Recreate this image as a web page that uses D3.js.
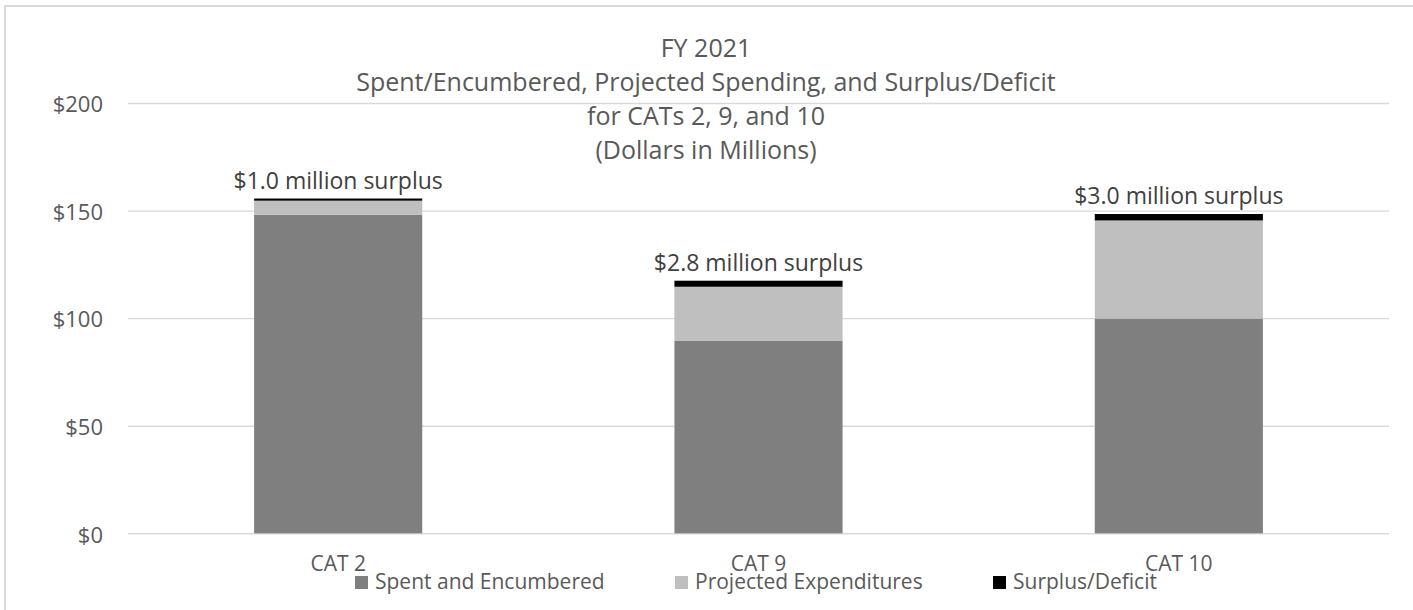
<!DOCTYPE html>
<html>
<head>
<meta charset="utf-8">
<script src="https://cdn.jsdelivr.net/npm/d3@7"></script>
<style>
  body { margin: 0; background: #fff; }
  svg text { font-family: "Open Sans", sans-serif; fill: #595959; }
</style>
</head>
<body>
<svg id="chart" width="1413" height="610"></svg>
<script>
// data
var categories = ["CAT 2", "CAT 9", "CAT 10"];
var spent = [148.0, 89.4, 99.8];
var projected = [6.6, 25.2, 45.6];
var surplus = [1.0, 2.8, 3.0];
var surplusLabels = ["$1.0 million surplus", "$2.8 million surplus", "$3.0 million surplus"];
var seriesNames = ["Spent and Encumbered", "Projected Expenditures", "Surplus/Deficit"];
var yTicks = [0, 50, 100, 150, 200];
var titleLines = ["FY 2021", "Spent/Encumbered, Projected Spending, and Surplus/Deficit", "for CATs 2, 9, and 10", "(Dollars in Millions)"];

var colors = ["#7f7f7f", "#bfbfbf", "#000000"];

var svg = d3.select("#chart");
var plotLeft = 128, plotRight = 1389, plotTop = 103, plotBottom = 533.3;

// outer frame (clipped on right and bottom like the original)
svg.append("rect")
  .attr("x", 5).attr("y", 6)
  .attr("width", 1430).attr("height", 640)
  .style("fill", "none").style("stroke", "#d9d9d9").style("stroke-width", 2);

var x = d3.scaleBand().domain(categories).range([plotLeft, plotRight]).paddingInner(0.6).paddingOuter(0.3);
var y = d3.scaleLinear().domain([0, 200]).range([plotBottom, plotTop]);

// gridlines
svg.append("g").attr("class", "grid")
  .attr("transform", "translate(" + plotLeft + ",0)")
  .call(d3.axisLeft(y).tickValues(yTicks).tickSize(-(plotRight - plotLeft)).tickFormat(""))
  .call(function(g) { g.select(".domain").remove(); })
  .selectAll("line").style("stroke", "#d9d9d9").style("stroke-width", 1.4);

// y axis labels
var yAxis = svg.append("g")
  .attr("transform", "translate(103,0)")
  .call(d3.axisLeft(y).tickValues(yTicks).tickSize(0).tickPadding(0).tickFormat(function(d) { return "$" + d; }));
yAxis.select(".domain").remove();
yAxis.selectAll("text").attr("dy", "0.4em").style("font-size", "22px").style("fill", "#595959");

// stacked bars
var rows = categories.map(function(c, i) {
  return { cat: c, spent: spent[i], projected: projected[i], surplus: surplus[i] };
});
var stack = d3.stack().keys(["spent", "projected", "surplus"])(rows);

svg.append("g").selectAll("g")
  .data(stack).enter()
  .append("g")
  .style("fill", function(d, i) { return colors[i]; })
  .selectAll("rect")
  .data(function(d) { return d; }).enter()
  .append("rect")
  .attr("x", function(d) { return x(d.data.cat); })
  .attr("width", x.bandwidth())
  .attr("y", function(d) { return y(d[1]); })
  .attr("height", function(d) { return y(d[0]) - y(d[1]); });

// surplus labels
svg.append("g").selectAll("text")
  .data(rows).enter()
  .append("text")
  .attr("x", function(d) { return x(d.cat) + x.bandwidth() / 2; })
  .attr("y", function(d) { return y(d.spent + d.projected + d.surplus) - 10; })
  .attr("text-anchor", "middle")
  .style("font-size", "23px")
  .style("fill", "#404040")
  .text(function(d, i) { return surplusLabels[i]; });

// category axis
var xAxis = svg.append("g")
  .attr("transform", "translate(0," + plotBottom + ")")
  .call(d3.axisBottom(x).tickSize(0));
xAxis.select(".domain").remove();
xAxis.selectAll("text").attr("y", 38).attr("dy", 0).style("font-size", "21px").style("fill", "#595959");

// title
svg.append("g").selectAll("text")
  .data(titleLines).enter()
  .append("text")
  .attr("x", 706)
  .attr("y", function(d, i) { return 57 + i * 34; })
  .attr("text-anchor", "middle")
  .style("font-size", "25px")
  .text(function(d) { return d; });

// legend
var legendX = [355, 675, 993];
var legend = svg.append("g").selectAll("g")
  .data(seriesNames).enter()
  .append("g")
  .attr("transform", function(d, i) { return "translate(" + legendX[i] + ",576)"; });
legend.append("rect")
  .attr("width", 13).attr("height", 13)
  .style("fill", function(d, i) { return colors[i]; });
legend.append("text")
  .attr("x", 20).attr("y", 13)
  .style("font-size", "21px")
  .text(function(d) { return d; });
</script>
</body>
</html>
